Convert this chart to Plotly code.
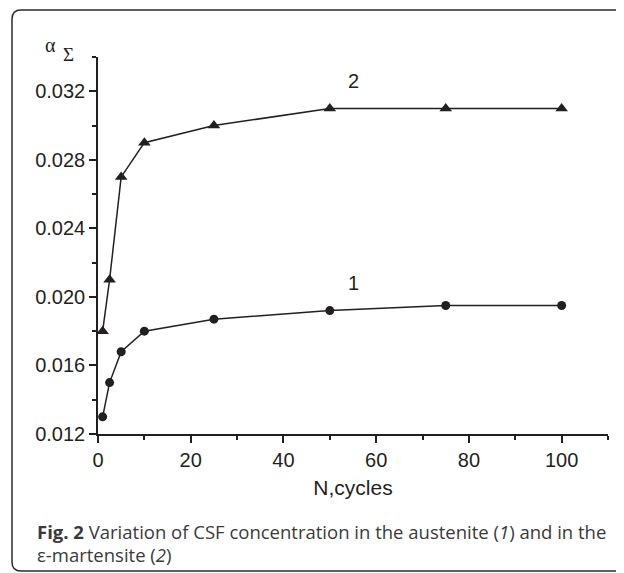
import plotly.graph_objects as go

# Data
cycles = [1, 2.5, 5, 10, 25, 50, 75, 100]
austenite = [0.013, 0.015, 0.0168, 0.018, 0.0187, 0.0192, 0.0195, 0.0195]
martensite = [0.018, 0.021, 0.027, 0.029, 0.030, 0.031, 0.031, 0.031]
x_label = "N,cycles"
caption1 = "<b>Fig. 2</b> Variation of CSF concentration in the austenite (<i>1</i>) and in the"
caption2 = "ε-martensite (<i>2</i>)"

# page offset (browser body margin)
O = 8
W, H = 624 - O, 573 - O
L, R, T, B = 98 - O, 608 - O, 57 - O, 434 - O
pw, ph = R - L, B - T


def px(x):
    return (x - O - L) / pw


def py(y):
    return (B - (y - O)) / ph


ink = "#231f20"
fig = go.Figure()
fig.add_trace(go.Scatter(x=cycles, y=martensite, mode="lines+markers",
                         line=dict(color=ink, width=1.5),
                         marker=dict(symbol="triangle-up", size=11, color=ink),
                         cliponaxis=False, showlegend=False))
fig.add_trace(go.Scatter(x=cycles, y=austenite, mode="lines+markers",
                         line=dict(color=ink, width=1.5),
                         marker=dict(symbol="circle", size=9, color=ink),
                         cliponaxis=False, showlegend=False))

axis_font = dict(family="Liberation Sans, Arial", size=20, color=ink)
fig.update_xaxes(range=[0, 110], dtick=20, tick0=0, showgrid=False, zeroline=False,
                 showline=True, linecolor=ink, linewidth=1.5,
                 ticks="outside", ticklen=7, tickwidth=1.5, tickcolor=ink,
                 minor=dict(dtick=10, ticks="outside", ticklen=4, tickwidth=1.5, tickcolor=ink),
                 tickfont=axis_font,
                 title=dict(text=x_label, font=dict(family="Liberation Sans, Arial", size=21, color=ink),
                            standoff=11))
fig.update_yaxes(range=[0.012, 0.034], dtick=0.004, tick0=0.012, tickformat=".3f",
                 showgrid=False, zeroline=False,
                 showline=True, linecolor=ink, linewidth=1.5,
                 ticks="outside", ticklen=7, tickwidth=1.5, tickcolor=ink,
                 minor=dict(dtick=0.002, ticks="outside", ticklen=4, tickwidth=1.5, tickcolor=ink),
                 tickfont=axis_font)

ann = []
ann.append(dict(x=55, y=0.0208, xref="x", yref="y", text="1", showarrow=False,
                font=axis_font))
ann.append(dict(x=55, y=0.0326, xref="x", yref="y", text="2", showarrow=False,
                font=axis_font))
ann.append(dict(x=px(43), y=py(32), xref="paper", yref="paper", text="α",
                showarrow=False,
                font=dict(family="Liberation Serif, Times New Roman", size=20, color=ink)))
ann.append(dict(x=px(61), y=py(42), xref="paper", yref="paper", text="Σ",
                showarrow=False,
                font=dict(family="Liberation Serif, Times New Roman", size=19, color=ink)))
cap_font = dict(family="Open Sans", size=18.5, color="#3a3a3a")
ann.append(dict(x=px(35), y=py(531), xref="paper", yref="paper", text=caption1,
                showarrow=False, xanchor="left", yanchor="middle", font=cap_font))
ann.append(dict(x=px(35), y=py(554), xref="paper", yref="paper", text=caption2,
                showarrow=False, xanchor="left", yanchor="middle", font=cap_font))

# rounded frame
fx0, fy0, fx1, fy1, r = 12, 10, 640, 571, 9
path = (f"M {px(fx1)},{py(fy0)} L {px(fx0 + r)},{py(fy0)} "
        f"Q {px(fx0)},{py(fy0)} {px(fx0)},{py(fy0 + r)} "
        f"L {px(fx0)},{py(fy1 - r)} "
        f"Q {px(fx0)},{py(fy1)} {px(fx0 + r)},{py(fy1)} "
        f"L {px(fx1)},{py(fy1)}")
fig.add_shape(type="path", path=path, xref="paper", yref="paper",
              line=dict(color="#2a2a2a", width=1.5))

fig.update_layout(width=W, height=H, margin=dict(l=L, r=W - R, t=T, b=H - B),
                  plot_bgcolor="white", paper_bgcolor="white",
                  annotations=ann)
fig.write_html("out.html")
